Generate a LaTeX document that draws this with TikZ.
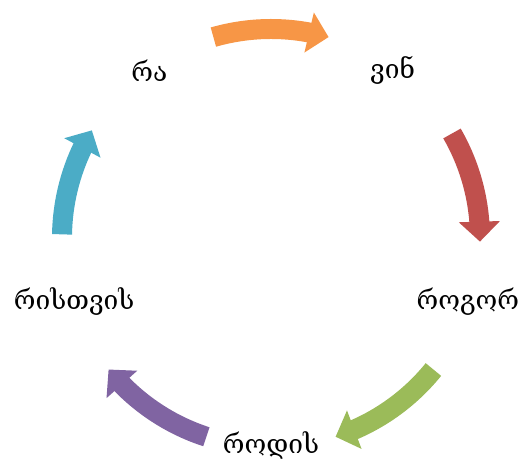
\documentclass[tikz,border=0pt]{standalone}
\usepackage{fontspec}
\newfontfamily\kafont{DejaVu Serif}
\usetikzlibrary{arrows.meta,bending,calc}
\definecolor{cycorange}{HTML}{F79646}
\definecolor{cycred}{HTML}{C0504D}
\definecolor{cycgreen}{HTML}{9BBB59}
\definecolor{cycpurple}{HTML}{8064A2}
\definecolor{cycteal}{HTML}{4BACC6}
\begin{document}
\begin{tikzpicture}[x=0.02cm, y=0.02cm,
    word/.style={font=\kafont\fontsize{15}{17}\selectfont},
    cycarrow/.style={line width=0.4cm, -{Triangle[length=0.4cm, width=0.8cm]}}]
    \useasboundingbox (-271,-224) rectangle (251,238);
    \coordinate (o) at (0,0);

    % Nodes
    \node[word] at (126:207) (ra) {რა};
    \node[word] at (54:207) (vin) {ვინ};
    \node[word] at (-18:207) (rogor) {როგორ};
    \node[word] at (-90:207) (rodis) {როდის};
    \node[word] at (198:207) (ristvis) {რისთვის};

    % Arrows
    \foreach \from/\to/\col in {106/74/cycorange, 30/-1/cycred, -39/-72/cycgreen, -108/-141/cycpurple, 179/149/cycteal}
        \draw[cycarrow, \col] ($(o)+(\from:209)$) arc[start angle=\from, end angle=\to, radius=209];
\end{tikzpicture}
\end{document}
